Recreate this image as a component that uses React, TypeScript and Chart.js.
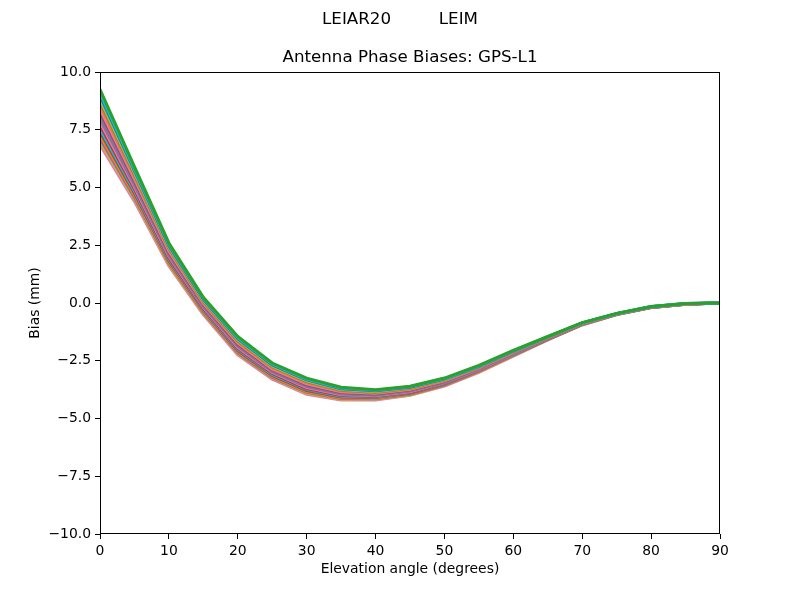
import { useEffect, useRef } from "react";
import { Chart, registerables } from "chart.js";

Chart.register(...registerables);

// elevation angles (degrees)
const elevations = [0, 5, 10, 15, 20, 25, 30, 35, 40, 45, 50, 55, 60, 65, 70, 75, 80, 85, 90];

// phase bias curves (mm), top of the band to bottom
const bias00 = [9.25, 5.9, 2.6, 0.25, -1.45, -2.6, -3.25, -3.65, -3.75, -3.6, -3.25, -2.7, -2.05, -1.45, -0.85, -0.45, -0.15, -0.02, 0];
const bias01 = [9.1, 5.81, 2.54, 0.21, -1.5, -2.64, -3.29, -3.68, -3.78, -3.62, -3.27, -2.72, -2.06, -1.46, -0.86, -0.45, -0.15, -0.02, 0];
const bias02 = [8.98, 5.73, 2.48, 0.16, -1.54, -2.68, -3.33, -3.71, -3.8, -3.65, -3.29, -2.74, -2.08, -1.47, -0.86, -0.46, -0.16, -0.02, 0];
const bias03 = [8.83, 5.64, 2.42, 0.12, -1.59, -2.72, -3.37, -3.75, -3.83, -3.67, -3.31, -2.75, -2.09, -1.48, -0.87, -0.46, -0.16, -0.03, 0];
const bias04 = [8.7, 5.55, 2.37, 0.07, -1.64, -2.76, -3.41, -3.78, -3.86, -3.69, -3.33, -2.77, -2.11, -1.49, -0.87, -0.46, -0.16, -0.03, 0];
const bias05 = [8.55, 5.46, 2.31, 0.03, -1.69, -2.81, -3.46, -3.81, -3.88, -3.72, -3.35, -2.79, -2.12, -1.49, -0.88, -0.47, -0.17, -0.03, 0];
const bias06 = [8.4, 5.37, 2.25, -0.01, -1.73, -2.85, -3.5, -3.84, -3.91, -3.74, -3.37, -2.81, -2.14, -1.5, -0.88, -0.47, -0.17, -0.03, 0];
const bias07 = [8.27, 5.29, 2.19, -0.06, -1.78, -2.89, -3.54, -3.87, -3.94, -3.76, -3.39, -2.82, -2.15, -1.51, -0.89, -0.47, -0.17, -0.03, 0];
const bias08 = [8.12, 5.2, 2.13, -0.1, -1.83, -2.93, -3.58, -3.91, -3.96, -3.79, -3.41, -2.84, -2.17, -1.52, -0.89, -0.47, -0.17, -0.04, 0];
const bias09 = [7.98, 5.11, 2.07, -0.15, -1.87, -2.97, -3.62, -3.94, -3.99, -3.81, -3.44, -2.86, -2.18, -1.53, -0.9, -0.48, -0.18, -0.04, 0];
const bias10 = [7.83, 5.02, 2.01, -0.19, -1.92, -3.01, -3.66, -3.97, -4.01, -3.84, -3.46, -2.88, -2.2, -1.54, -0.91, -0.48, -0.18, -0.04, 0];
const bias11 = [7.7, 4.93, 1.95, -0.24, -1.97, -3.05, -3.7, -4.0, -4.04, -3.86, -3.48, -2.89, -2.21, -1.55, -0.91, -0.48, -0.18, -0.04, 0];
const bias12 = [7.55, 4.84, 1.89, -0.28, -2.01, -3.09, -3.74, -4.04, -4.07, -3.88, -3.5, -2.91, -2.23, -1.56, -0.92, -0.49, -0.19, -0.04, 0];
const bias13 = [7.4, 4.75, 1.83, -0.32, -2.06, -3.14, -3.79, -4.07, -4.09, -3.91, -3.52, -2.93, -2.24, -1.57, -0.92, -0.49, -0.19, -0.05, 0];
const bias14 = [7.27, 4.66, 1.77, -0.37, -2.11, -3.18, -3.83, -4.1, -4.12, -3.93, -3.54, -2.95, -2.26, -1.58, -0.93, -0.49, -0.19, -0.05, 0];
const bias15 = [7.12, 4.57, 1.72, -0.41, -2.16, -3.22, -3.87, -4.13, -4.15, -3.95, -3.56, -2.96, -2.27, -1.58, -0.93, -0.5, -0.2, -0.05, 0];
const bias16 = [6.98, 4.49, 1.66, -0.46, -2.2, -3.26, -3.91, -4.17, -4.17, -3.98, -3.58, -2.98, -2.29, -1.59, -0.94, -0.5, -0.2, -0.05, 0];
const bias17 = [6.85, 4.4, 1.6, -0.5, -2.25, -3.3, -3.95, -4.2, -4.2, -4.0, -3.6, -3.0, -2.3, -1.6, -0.95, -0.5, -0.2, -0.05, 0];

const curves = [
  bias00, bias01, bias02, bias03, bias04, bias05, bias06, bias07, bias08,
  bias09, bias10, bias11, bias12, bias13, bias14, bias15, bias16, bias17,
];

// matplotlib tab10 colours, in the order they show in the band
const curveColors = [
  "#2ca02c", "#17becf", "#1f77b4", "#bcbd22", "#7f7f7f", "#ff7f0e",
  "#e377c2", "#8c564b", "#9467bd", "#7f7f7f", "#e377c2", "#d62728",
  "#17becf", "#8c564b", "#ff7f0e", "#9467bd", "#bcbd22", "#e377c2",
];

const yTicks = [-10, -7.5, -5, -2.5, 0, 2.5, 5, 7.5, 10];

const FONT = "'DejaVu Sans', sans-serif";

export default function App() {
  const ref = useRef<HTMLCanvasElement | null>(null);

  useEffect(() => {
    if (!ref.current) return;
    const ctx = ref.current.getContext("2d");
    if (!ctx) return;

    // titles, axis labels and the axes frame, drawn like matplotlib does
    const decorations = {
      id: "decorations",
      afterDraw: (chart: Chart) => {
        const c = chart.ctx;
        const area = chart.chartArea;
        c.save();
        c.strokeStyle = "#000";
        c.lineWidth = 1;
        c.strokeRect(area.left + 0.5, area.top + 0.5, area.right - area.left - 1, area.bottom - area.top - 1);

        c.fillStyle = "#000";
        c.textAlign = "center";
        c.textBaseline = "middle";
        c.font = `16.7px ${FONT}`;
        c.fillText("LEIAR20         LEIM", 400, 20);
        c.fillText("Antenna Phase Biases: GPS-L1", (area.left + area.right) / 2, 58);

        c.font = `13.9px ${FONT}`;
        c.fillText("Elevation angle (degrees)", (area.left + area.right) / 2, 569);
        c.translate(35, (area.top + area.bottom) / 2);
        c.rotate(-Math.PI / 2);
        c.fillText("Bias (mm)", 0, 0);
        c.restore();
      },
    };

    const chart = new Chart(ctx, {
      type: "line",
      data: {
        labels: elevations,
        datasets: curves.map((values, i) => ({
          data: values.map((v, j) => ({ x: elevations[j], y: v })),
          borderColor: curveColors[i],
          borderWidth: 3,
          pointRadius: 0,
          tension: 0,
          fill: false,
        })),
      },
      options: {
        animation: false,
        responsive: false,
        devicePixelRatio: 1,
        layout: { padding: { top: 72, right: 80, left: 0, bottom: 0 } },
        plugins: {
          legend: { display: false },
          tooltip: { enabled: false },
        },
        scales: {
          x: {
            type: "linear",
            min: 0,
            max: 90,
            afterFit: (scale) => {
              scale.height = 66;
            },
            ticks: {
              stepSize: 10,
              color: "#000",
              padding: 4,
              font: { family: FONT, size: 13.9 },
            },
            grid: {
              drawOnChartArea: false,
              drawTicks: true,
              tickLength: 5,
              color: "#000",
            },
            border: { display: false },
          },
          y: {
            type: "linear",
            min: -10,
            max: 10,
            afterFit: (scale) => {
              scale.width = 100;
            },
            afterBuildTicks: (scale) => {
              scale.ticks = yTicks.map((v) => ({ value: v }));
            },
            ticks: {
              color: "#000",
              padding: 4,
              font: { family: FONT, size: 13.9 },
              callback: (v) => Number(v).toFixed(1).replace("-", "\u2212"),
            },
            grid: {
              drawOnChartArea: false,
              drawTicks: true,
              tickLength: 5,
              color: "#000",
            },
            border: { display: false },
          },
        },
      },
      plugins: [decorations],
    });

    return () => chart.destroy();
  }, []);

  return (
    <div style={{ position: "absolute", left: 0, top: 0, width: 800, height: 600, background: "#fff" }}>
      <canvas ref={ref} width={800} height={600} />
    </div>
  );
}
